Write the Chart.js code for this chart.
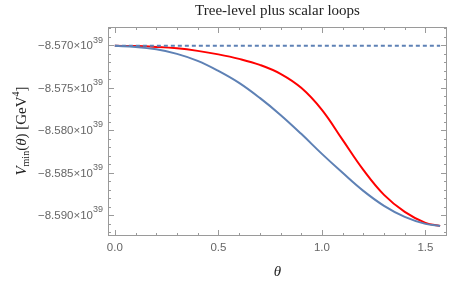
<!DOCTYPE html>
<html>
<head>
<meta charset="utf-8">
<script src="https://cdn.jsdelivr.net/npm/chart.js@4.4.1/dist/chart.umd.min.js"></script>
<style>
html,body{margin:0;padding:0;background:#fff;}
#wrap{width:449px;height:287px;position:relative;}
</style>
</head>
<body>
<div id="wrap"><canvas id="c" width="449" height="287"></canvas></div>
<script>
// values in units of 10^39 GeV^4
const theta = [0, 0.1, 0.2, 0.3, 0.4, 0.5, 0.6, 0.7, 0.8, 0.9, 1.0, 1.1, 1.2, 1.3, 1.4, 1.5, 1.5708];
const blueCurve = [-8.57010, -8.57022, -8.57051, -8.57104, -8.57186, -8.57304, -8.57445, -8.57622, -8.57822, -8.58045, -8.58281, -8.58504, -8.58716, -8.58892, -8.59022, -8.59104, -8.59128];
const redCurve  = [-8.57010, -8.57012, -8.57022, -8.57039, -8.57069, -8.57110, -8.57163, -8.57234, -8.57339, -8.57504, -8.57763, -8.58116, -8.58469, -8.58763, -8.58963, -8.59092, -8.59128];
const treeTheta = [0, 1.5708];
const treeLevel = [-8.5701, -8.5701];
const xTicks = [0, 0.5, 1.0, 1.5];
const xTickLabels = ['0.0', '0.5', '1.0', '1.5'];
const yTicks = [-8.570, -8.575, -8.580, -8.585, -8.590];
const yTickLabels = ['\u22128.570', '\u22128.575', '\u22128.580', '\u22128.585', '\u22128.590'];
const yExp = '39';
const titleText = 'Tree-level plus scalar loops';

const BLUE = '#5E81B5';
const RED = '#FF0000';
const FRAME = '#9a9a9a';
const LABEL = '#666666';

function pts(xs, ys){ return xs.map((x,i)=>({x:x, y:ys[i]})); }

const framePlugin = {
  id: 'frame',
  afterDraw(chart){
    const ctx = chart.ctx;
    const a = chart.chartArea;
    const xs = chart.scales.x, ys = chart.scales.y;
    ctx.save();
    ctx.strokeStyle = FRAME;
    ctx.lineWidth = 1;
    ctx.strokeRect(a.left+0.5, a.top+0.5, a.right-a.left-1, a.bottom-a.top-1);
    ctx.beginPath();
    for (let k = 0; k <= 16; k++){
      const v = k/10;
      const px = Math.round(xs.getPixelForValue(v))+0.5;
      const major = (k % 5 === 0);
      const len = major ? 6 : 3;
      ctx.moveTo(px, a.bottom); ctx.lineTo(px, a.bottom-len);
      ctx.moveTo(px, a.top); ctx.lineTo(px, a.top+len);
    }
    for (let k = 0; k <= 25; k++){
      const v = -8.567 - k*0.001;
      const py = ys.getPixelForValue(v);
      if (py < a.top || py > a.bottom) continue;
      const pyr = Math.round(py)+0.5;
      const major = (Math.round(v*1000) % 5 === 0);
      const len = major ? 6 : 3;
      ctx.moveTo(a.left, pyr); ctx.lineTo(a.left+len, pyr);
      ctx.moveTo(a.right, pyr); ctx.lineTo(a.right-len, pyr);
    }
    ctx.stroke();

    ctx.fillStyle = LABEL;
    ctx.font = '11.5px "Liberation Sans", Arial, sans-serif';
    ctx.textAlign = 'center';
    ctx.textBaseline = 'middle';
    xTicks.forEach((v,i)=>{
      ctx.fillText(xTickLabels[i], xs.getPixelForValue(v), a.bottom + 12);
    });
    ctx.textBaseline = 'middle';
    yTicks.forEach((v,i)=>{
      const py = ys.getPixelForValue(v);
      const right = a.left - 5;
      ctx.font = '9px "Liberation Sans", Arial, sans-serif';
      const ew = ctx.measureText(yExp).width;
      ctx.textAlign = 'right';
      ctx.fillText(yExp, right, py - 5);
      ctx.font = '11.5px "Liberation Sans", Arial, sans-serif';
      ctx.fillText(yTickLabels[i] + '\u00D710', right - ew, py + 1);
    });

    ctx.fillStyle = '#222';
    ctx.font = '15px "Liberation Serif", "DejaVu Serif", serif';
    ctx.textAlign = 'center';
    ctx.textBaseline = 'middle';
    ctx.fillText(titleText, (a.left + a.right)/2, 11);

    ctx.font = 'italic 15px "Liberation Serif", "DejaVu Serif", serif';
    ctx.fillText('\u03B8', (a.left + a.right)/2, 272);

    ctx.translate(22, 131);
    ctx.rotate(-Math.PI/2);
    const parts = [
      {t:'V', f:'italic 15px "Liberation Serif", serif', dy:0},
      {t:'min', f:'10px "Liberation Serif", serif', dy:4},
      {t:'(', f:'15px "Liberation Serif", serif', dy:0},
      {t:'\u03B8', f:'italic 15px "Liberation Serif", serif', dy:0},
      {t:') [GeV', f:'15px "Liberation Serif", serif', dy:0},
      {t:'4', f:'10px "Liberation Serif", serif', dy:-6},
      {t:']', f:'15px "Liberation Serif", serif', dy:0}
    ];
    let total = 0;
    parts.forEach(p=>{ ctx.font = p.f; p.w = ctx.measureText(p.t).width; total += p.w; });
    let x = -total/2;
    ctx.textAlign = 'left';
    ctx.textBaseline = 'middle';
    parts.forEach(p=>{ ctx.font = p.f; ctx.fillText(p.t, x, p.dy); x += p.w; });
    ctx.restore();
  }
};

new Chart(document.getElementById('c'), {
  type: 'line',
  data: {
    datasets: [
      {data: pts(treeTheta, treeLevel), borderColor: BLUE, borderWidth: 2, borderDash: [4,3], pointRadius: 0, fill: false},
      {data: pts(theta, blueCurve), borderColor: BLUE, borderWidth: 2, pointRadius: 0, tension: 0.4, fill: false},
      {data: pts(theta, redCurve), borderColor: RED, borderWidth: 2, pointRadius: 0, tension: 0.4, fill: false}
    ]
  },
  options: {
    responsive: false,
    animation: false,
    devicePixelRatio: 1,
    layout: {padding: {left: 108, right: 2, top: 27, bottom: 51}},
    plugins: {legend: {display: false}, title: {display: false}, tooltip: {enabled: false}},
    scales: {
      x: {type: 'linear', display: false, min: -0.033, max: 1.604},
      y: {type: 'linear', display: false, min: -8.59247, max: -8.56788}
    }
  },
  plugins: [framePlugin]
});
</script>
</body>
</html>
